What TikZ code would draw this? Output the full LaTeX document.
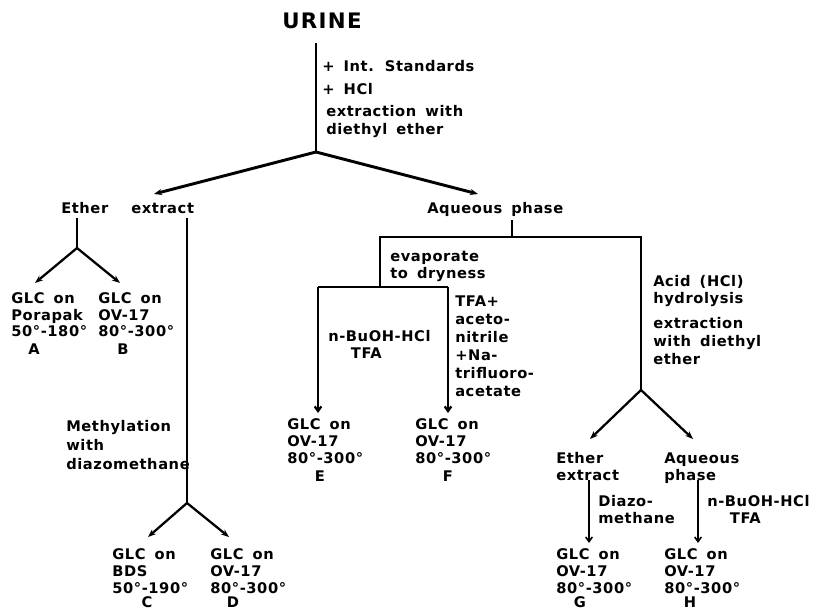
\documentclass[tikz,border=0pt]{standalone}
\usepackage{fontspec}
\newfontfamily\lab{DejaVu Sans}[UprightFont=* Bold, LetterSpace=4, WordSpace=1.6]
\newfontfamily\bigf{DejaVu Sans}[UprightFont=* Bold, LetterSpace=6]
\usetikzlibrary{arrows.meta}
\begin{document}
\begin{tikzpicture}[x=0.75pt,y=-0.75pt,
  txt/.style={inner sep=0pt, align=left, anchor=north west, font=\lab\fontsize{11}{12.4}\selectfont},
  txtb/.style={txt, font=\lab\fontsize{11}{12.75}\selectfont},
  one/.style={inner sep=0pt, anchor=base west, font=\lab\fontsize{11}{12.4}\selectfont},
  letter/.style={inner sep=0pt, anchor=base, font=\lab\fontsize{11}{12.4}\selectfont},
  thickline/.style={line width=2.2pt},
  midline/.style={line width=1.7pt},
  thinline/.style={line width=1.2pt},
  arr/.style={-{Stealth[length=6pt,width=4.5pt]}},
  barb/.style={-{Straight Barb[length=3.5pt,width=5pt]}},
  line join=miter]
\useasboundingbox (0,0) rectangle (816,610);

% ---------- texts ----------
\node[inner sep=0pt, anchor=base, font=\bigf\fontsize{16}{18}\selectfont] (urine) at (322,29) {URINE};
\node[one] (std) at (322,71.5) {+ Int. Standards};
\node[one] (hcl) at (322,94.5) {+ HCl};
\node[txt, font=\lab\fontsize{11}{13.5}\selectfont] (extr) at (326,105.5) {extraction with\\diethyl ether};

\node[one] (ether) at (61,213) {Ether};
\node[one] (extract) at (131,213) {extract};
\node[one] (aqueous) at (427,213) {Aqueous phase};

\node[txt] (glcA) at (11,292.5) {GLC on\\Porapak\\50°-180°};
\node[letter] (A) at (34,354.5) {A};
\node[txt] (glcB) at (98,292.5) {GLC on\\OV-17\\80°-300°};
\node[letter] (B) at (123,354.5) {B};

\node[txt, font=\lab\fontsize{11}{14.25}\selectfont] (methyl) at (66,420.5) {Methylation\\with\\diazomethane};

\node[txtb] (glcC) at (112,548.5) {GLC on\\BDS\\50°-190°};
\node[letter] (C) at (147,607.5) {C};
\node[txtb] (glcD) at (210,548.5) {GLC on\\OV-17\\80°-300°};
\node[letter] (D) at (233,607.5) {D};

\node[txtb] (evap) at (390,250.5) {evaporate\\to dryness};
\node[txtb] (buoh1) at (328,330.5) {n-BuOH-HCl\\\hspace*{17pt}TFA};
\node[txt, font=\lab\fontsize{11}{13.5}\selectfont] (tfa) at (455,295.5) {TFA+\\aceto-\\nitrile\\+Na-\\trifluoro-\\acetate};

\node[txtb] (glcE) at (287,418.5) {GLC on\\OV-17\\80°-300°};
\node[letter] (E) at (320,481.5) {E};
\node[txtb] (glcF) at (415,418.5) {GLC on\\OV-17\\80°-300°};
\node[letter] (F) at (448,481.5) {F};

\node[txtb] (acid) at (653,275.5) {Acid (HCl)\\hydrolysis};
\node[txt, font=\lab\fontsize{11}{13.2}\selectfont] (extr2) at (653,317.5) {extraction\\with diethyl\\ether};

\node[txt] (ether2) at (556,452.5) {Ether\\extract};
\node[txt] (aq2) at (664,452.5) {Aqueous\\phase};
\node[txtb] (diazo) at (598,495.5) {Diazo-\\methane};
\node[txtb] (buoh2) at (707,495.5) {n-BuOH-HCl\\\hspace*{17pt}TFA};

\node[txtb] (glcG) at (556,548.5) {GLC on\\OV-17\\80°-300°};
\node[letter] (G) at (580,607.5) {G};
\node[txtb] (glcH) at (664,548.5) {GLC on\\OV-17\\80°-300°};
\node[letter] (H) at (690,607.5) {H};

% ---------- junction coordinates ----------
\coordinate (u1) at (316,43);
\coordinate (j0) at (316,152);
\coordinate (tEE) at (154,194);
\coordinate (tAQ) at (478,194);

\coordinate (e1) at (77,218);
\coordinate (e2) at (77,248);
\coordinate (tA) at (35,283);
\coordinate (tB) at (120,283);

\coordinate (x1) at (187,218);
\coordinate (x2) at (187,503);
\coordinate (tC) at (148,537);
\coordinate (tD) at (229,537);

\coordinate (q1) at (512,220);
\coordinate (q2) at (512,237);
\coordinate (qL) at (380,237);
\coordinate (qR) at (641,237);
\coordinate (qL2) at (380,287);
\coordinate (hL) at (318,287);
\coordinate (hR) at (448,287);
\coordinate (tE) at (318,413);
\coordinate (tF) at (448,413);

\coordinate (r2) at (641,390);
\coordinate (tEt) at (590,439);
\coordinate (tAq) at (693,439);

\coordinate (g1) at (589,480);
\coordinate (tG) at (589,543);
\coordinate (h1) at (698,480);
\coordinate (tH) at (698,543);

% ---------- connectors ----------
\draw[thickline] (u1) -- (j0);
\draw[thickline, arr] (j0) -- (tEE);
\draw[thickline, arr] (j0) -- (tAQ);

\draw[midline] (e1) -- (e2);
\draw[midline, arr] (e2) -- (tA);
\draw[midline, arr] (e2) -- (tB);

\draw[midline] (x1) -- (x2);
\draw[midline, arr] (x2) -- (tC);
\draw[midline, arr] (x2) -- (tD);

\draw[midline] (q1) -- (q2);
\draw[midline] (qL2) -- (qL) -- (qR) -- (r2);
\draw[midline] (qL2) -- (hL);
\draw[midline] (qL2) -- (hR);
\draw[midline, barb] (hL) -- (tE);
\draw[midline, barb] (hR) -- (tF);

\draw[midline, arr] (r2) -- (tEt);
\draw[midline, arr] (r2) -- (tAq);

\draw[thinline, barb] (g1) -- (tG);
\draw[thinline, barb] (h1) -- (tH);
\end{tikzpicture}
\end{document}
